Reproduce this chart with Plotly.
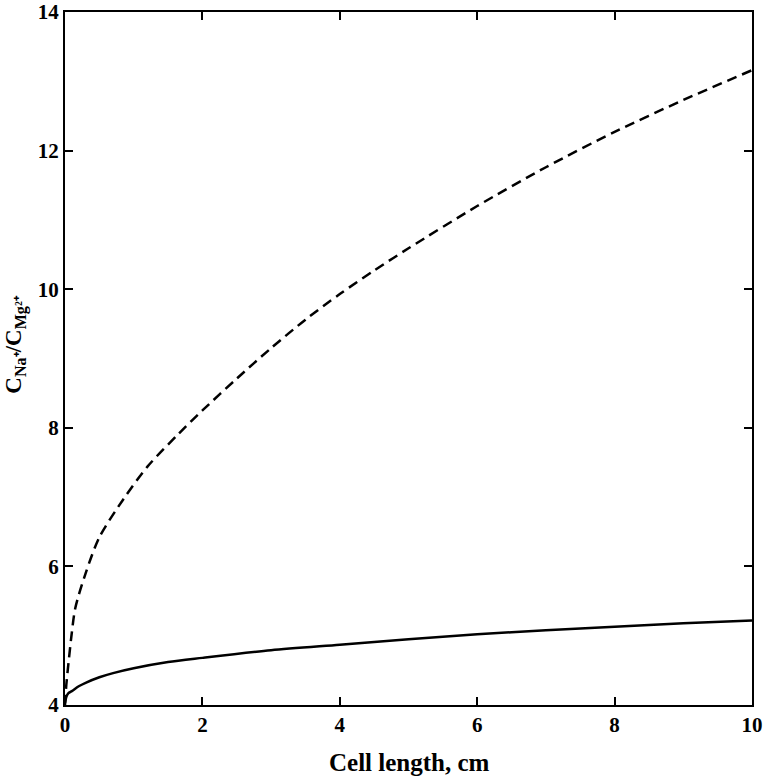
import plotly.graph_objects as go

# values
x_dashed = [0, 0.02, 0.05, 0.1, 0.15, 0.3, 0.5, 0.85, 1.2, 1.65, 2, 2.5, 3, 3.5,
            4, 4.5, 5, 6, 7, 8, 9, 10]
y_dashed = [4.0, 4.3, 4.6, 5.05, 5.4, 5.9, 6.42, 6.97, 7.44, 7.91, 8.25, 8.71, 9.15, 9.56,
            9.93, 10.27, 10.59, 11.2, 11.76, 12.27, 12.73, 13.16]

x_solid = [0, 0.02, 0.05, 0.1, 0.2, 0.3, 0.5, 0.7, 1, 1.5, 2, 3, 4, 5, 6, 7, 8, 9, 10]
y_solid = [4.03, 4.12, 4.17, 4.2, 4.27, 4.32, 4.4, 4.46, 4.53, 4.62, 4.68, 4.79, 4.87,
           4.95, 5.02, 5.08, 5.13, 5.18, 5.22]

x_ticks = [0, 2, 4, 6, 8, 10]
y_ticks = [4, 6, 8, 10, 12, 14]

FONT = "Liberation Serif, Times New Roman, serif"

fig = go.Figure()
fig.add_trace(go.Scatter(
    x=x_dashed, y=y_dashed, mode="lines",
    line=dict(color="black", width=2.5, dash="10px,6px", shape="spline", smoothing=0.8),
))
fig.add_trace(go.Scatter(
    x=x_solid, y=y_solid, mode="lines",
    line=dict(color="black", width=2.5, shape="spline", smoothing=0.8),
))

axis_common = dict(
    showline=True, linecolor="black", linewidth=2, mirror="ticks",
    ticks="inside", ticklen=8, tickwidth=2, tickcolor="black",
    showgrid=False, zeroline=False, automargin=False,
    ticklabeloverflow="allow",
    tickfont=dict(family=FONT, size=21, color="black", weight="bold"),
)

fig.update_layout(
    width=766, height=777,
    plot_bgcolor="white", paper_bgcolor="white",
    showlegend=False,
    margin=dict(l=65, r=14, t=12, b=72),
    xaxis=dict(range=[0, 10], tickvals=x_ticks, **axis_common),
    yaxis=dict(range=[4, 14], tickvals=y_ticks, **axis_common),
)

# axis titles
fig.add_annotation(
    text="Cell length, cm", xref="paper", yref="paper", x=0.502, y=0,
    yanchor="middle", yshift=-57, showarrow=False,
    font=dict(family=FONT, size=25, color="black", weight="bold"),
)
fig.add_annotation(
    text="C<sub>Na⁺</sub>/C<sub>Mg²⁺</sub>", xref="paper", yref="paper", x=0, y=0.52,
    xanchor="center", yanchor="middle", xshift=-49, textangle=-90, showarrow=False,
    font=dict(family=FONT, size=23, color="black", weight="bold"),
)

# drop the default page margin so the figure sits at the window's corner
fig.write_html("out.html", config={"displayModeBar": False},
               post_script="document.body.style.margin='0';")
